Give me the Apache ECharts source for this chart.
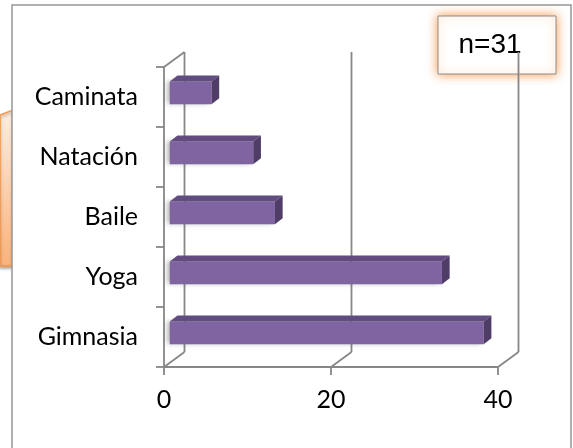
<!DOCTYPE html>
<html>
<head>
<meta charset="utf-8">
<script src="https://cdn.jsdelivr.net/npm/echarts@6/dist/echarts.min.js"></script>
<style>
  html, body { margin: 0; padding: 0; background: #fff; }
  #chart { width: 573px; height: 448px; }
</style>
</head>
<body>
<div id="chart"></div>
<script>
// data
const categories = ['Caminata', 'Natación', 'Baile', 'Yoga', 'Gimnasia'];
const values = [5, 10, 12.6, 32.6, 37.6];
const xTicks = [0, 20, 40];

// fake 3d look: offset of the back wall from the front plane
const DEPTH_X = 20.5;
const DEPTH_Y = -15;
const BAR_FRONT = 0.28;   // bars start this far into the depth
const BAR_DEPTH_X = 7.7;
const BAR_DEPTH_Y = -6;

const lineColor = '#878787';
const labelFont = 'Lato, "Noto Sans", sans-serif';

const chart = echarts.init(document.getElementById('chart'));

const renderFrame = (params, api) => {
  const cs = params.coordSys;
  const v = api.value(0);
  const x = api.coord([v, 0])[0];
  const yb = cs.y + cs.height;
  const children = [
    // floor diagonal
    {type: 'line', shape: {x1: x, y1: yb, x2: x + DEPTH_X, y2: yb + DEPTH_Y},
      style: {stroke: lineColor, lineWidth: 1.8}},
    // back wall vertical
    {type: 'line', shape: {x1: x + DEPTH_X, y1: yb + DEPTH_Y, x2: x + DEPTH_X, y2: cs.y + DEPTH_Y},
      style: {stroke: lineColor, lineWidth: 1.8}},
  ];
  if (v === 0) {
    // top edge of the side wall
    children.push({type: 'line', shape: {x1: cs.x, y1: cs.y, x2: cs.x + DEPTH_X, y2: cs.y + DEPTH_Y},
      style: {stroke: lineColor, lineWidth: 1.8}});
  }
  return {type: 'group', children: children};
};

const renderBar = (params, api) => {
  const cat = api.value(1);
  const v = api.value(0);
  const p0 = api.coord([0, cat]);
  const p1 = api.coord([v, cat]);
  const band = api.size([0, 1])[1];
  const half = band * 0.19;
  const x0 = p0[0] + DEPTH_X * BAR_FRONT;
  const x1 = p1[0] + DEPTH_X * BAR_FRONT;
  const yT = p0[1] + DEPTH_Y * BAR_FRONT - half;
  const yB = p0[1] + DEPTH_Y * BAR_FRONT + half;
  const bx = BAR_DEPTH_X, by = BAR_DEPTH_Y;
  return {
    type: 'group',
    children: [
      {type: 'rect', shape: {x: x0, y: yT, width: x1 - x0, height: yB - yT},
        style: {fill: '#8064A2', shadowBlur: 5, shadowOffsetX: -3, shadowColor: 'rgba(0,0,0,0.3)'}},
      {type: 'polygon', shape: {points: [[x0, yT], [x1, yT], [x1 + bx, yT + by], [x0 + bx, yT + by]]},
        style: {fill: '#614B7F'}},
      {type: 'polygon', shape: {points: [[x1, yT], [x1 + bx, yT + by], [x1 + bx, yB + by], [x1, yB]]},
        style: {fill: '#4F3D68'}},
    ]
  };
};

chart.setOption({
  animation: false,
  backgroundColor: '#fff',
  grid: {left: 164, right: 75, top: 67, bottom: 81},
  xAxis: {
    type: 'value',
    min: 0,
    max: 40,
    interval: 20,
    axisLine: {show: true, lineStyle: {color: lineColor, width: 1.8}},
    axisTick: {show: true, length: 8, lineStyle: {color: lineColor, width: 1.8}},
    splitLine: {show: false},
    axisLabel: {fontSize: 25, color: '#000', fontFamily: labelFont, margin: 20},
  },
  yAxis: {
    type: 'category',
    inverse: true,
    data: categories,
    axisLine: {show: true, lineStyle: {color: lineColor, width: 1.8}},
    axisTick: {show: true, length: 8, lineStyle: {color: lineColor, width: 1.8}},
    axisLabel: {fontSize: 25, color: '#000', fontFamily: labelFont, margin: 26},
  },
  graphic: [
    // bit of an orange callout peeking out on the left
    {type: 'polygon', z: 0, shape: {points: [[0, 115], [13, 110], [13, 266], [0, 266]]},
      style: {
        fill: new echarts.graphic.LinearGradient(0, 0, 0, 1, [
          {offset: 0, color: '#FEEEE2'},
          {offset: 1, color: '#FAB27A'}
        ]),
        stroke: '#F79646', lineWidth: 1.5,
        shadowBlur: 3, shadowOffsetY: 2, shadowColor: 'rgba(0,0,0,0.3)'
      }},
    {type: 'rect', z: 0, shape: {x: 12, y: 5, width: 559, height: 460},
      style: {fill: '#fff', stroke: '#969696', lineWidth: 1.5}},
    {type: 'group', z: 100, children: [
      {type: 'rect', shape: {x: 438, y: 16, width: 118, height: 58},
        style: {fill: '#fff', stroke: '#8C8C8C', lineWidth: 1, shadowBlur: 10, shadowColor: '#F79646'}},
      {type: 'text', x: 490, y: 45,
        style: {text: 'n=31', fontSize: 28, fontFamily: '"Liberation Sans", Arial, sans-serif',
          fill: '#000', textAlign: 'center', textVerticalAlign: 'middle'}},
    ]},
  ],
  series: [
    {
      type: 'custom',
      z: 1,
      renderItem: renderFrame,
      encode: {x: 0, y: 1},
      data: xTicks.map(v => [v, 0]),
      silent: true,
    },
    {
      type: 'custom',
      z: 3,
      renderItem: renderBar,
      encode: {x: 0, y: 1},
      data: values.map((v, i) => [v, i]),
    },
  ],
});
</script>
</body>
</html>
